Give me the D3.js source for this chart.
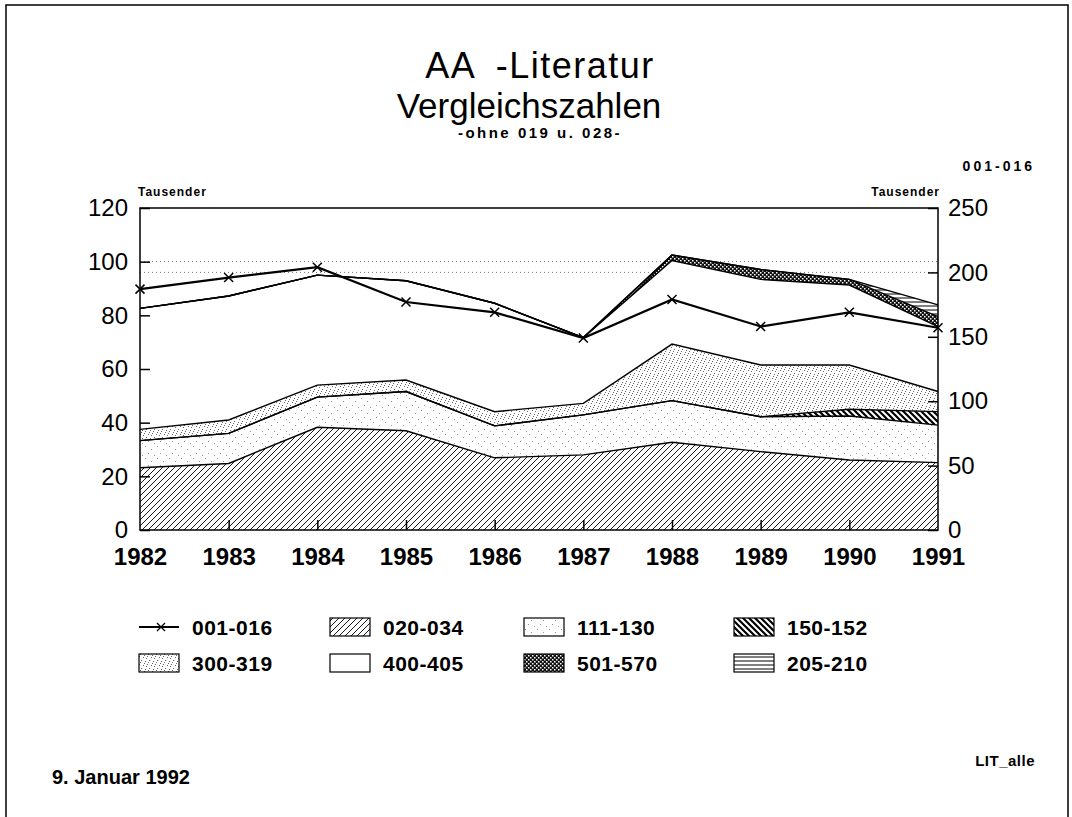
<!DOCTYPE html>
<html>
<head>
<meta charset="utf-8">
<script src="https://cdn.jsdelivr.net/npm/d3@7"></script>
<style>
  body { margin: 0; background: #fff; }
  svg text { font-family: "Liberation Sans", Arial, Helvetica, sans-serif; fill: #000; }
</style>
</head>
<body>
<svg id="main-svg" width="1072" height="817"></svg>
<script>
// data (Tausender)
let years = [1982, 1983, 1984, 1985, 1986, 1987, 1988, 1989, 1990, 1991];
let s020_034 = [23.2, 24.8, 38.3, 37.0, 26.9, 28.0, 32.7, 29.2, 26.1, 25.1];
let s111_130 = [10.1, 11.2, 11.2, 14.6, 11.9, 14.9, 15.5, 13.0, 16.4, 14.0];
let s150_152 = [0, 0, 0, 0, 0, 0, 0, 0, 2.5, 5.0];
let s300_319 = [4.2, 5.0, 4.5, 4.3, 5.3, 4.3, 21.1, 19.3, 16.5, 7.5];
let s400_405 = [45.1, 46.2, 41.0, 37.0, 40.4, 24.5, 31.1, 31.9, 29.8, 24.2];
let s501_570 = [0, 0, 0, 0, 0, 0, 2.1, 3.7, 2.1, 3.7];
let s205_210 = [0, 0, 0, 0, 0, 0, 0, 0, 0, 4.4];
// 001-016 on the right axis
let s001_016 = [187, 196, 204, 177, 169, 149, 179, 158, 169, 157];

let leftTicks = [0, 20, 40, 60, 80, 100, 120];
let rightTicks = [0, 50, 100, 150, 200, 250];

let keys = ["020-034", "111-130", "150-152", "300-319", "400-405", "501-570", "205-210"];
let series = [s020_034, s111_130, s150_152, s300_319, s400_405, s501_570, s205_210];
let fills = {
    "020-034": "url(#hatch-fwd)",
    "111-130": "url(#stipple-light)",
    "150-152": "url(#hatch-back)",
    "300-319": "url(#stipple-dense)",
    "400-405": "#fff",
    "501-570": "url(#cross)",
    "205-210": "url(#horiz)"
};

let svg = d3.select("#main-svg");
let defs = svg.append("defs");

// patterns
let p = defs.append("pattern").attr("id", "hatch-fwd").attr("patternUnits", "userSpaceOnUse")
    .attr("width", 6).attr("height", 6);
p.append("rect").attr("width", 6).attr("height", 6).attr("fill", "#fff");
p.append("path").attr("d", "M-1,1 l2,-2 M0,6 l6,-6 M5,7 l2,-2").attr("stroke", "#000").attr("stroke-width", 0.9);

p = defs.append("pattern").attr("id", "hatch-back").attr("patternUnits", "userSpaceOnUse")
    .attr("width", 6).attr("height", 6);
p.append("rect").attr("width", 6).attr("height", 6).attr("fill", "#fff");
p.append("path").attr("d", "M-1,-1 l8,8 M-1,5 l2,2 M5,-1 l2,2").attr("stroke", "#000").attr("stroke-width", 2.2);

p = defs.append("pattern").attr("id", "stipple-light").attr("patternUnits", "userSpaceOnUse")
    .attr("width", 12).attr("height", 12);
p.append("rect").attr("width", 12).attr("height", 12).attr("fill", "#fff");
[[1, 2], [7, 5], [4, 9], [10, 11]].forEach(function (d) {
    p.append("rect").attr("x", d[0]).attr("y", d[1]).attr("width", 1).attr("height", 1).attr("fill", "#999");
});

p = defs.append("pattern").attr("id", "stipple-dense").attr("patternUnits", "userSpaceOnUse")
    .attr("width", 8).attr("height", 8);
p.append("rect").attr("width", 8).attr("height", 8).attr("fill", "#fff");
[[0, 1], [4, 2], [2, 5], [6, 6], [5, 0], [1, 7], [7, 3]].forEach(function (d) {
    p.append("rect").attr("x", d[0]).attr("y", d[1]).attr("width", 1).attr("height", 1).attr("fill", "#666");
});

p = defs.append("pattern").attr("id", "cross").attr("patternUnits", "userSpaceOnUse")
    .attr("width", 4).attr("height", 4);
p.append("rect").attr("width", 4).attr("height", 4).attr("fill", "#111");
p.append("rect").attr("x", 0).attr("y", 0).attr("width", 1.5).attr("height", 1.5).attr("fill", "#fff");
p.append("rect").attr("x", 2).attr("y", 2).attr("width", 1.5).attr("height", 1.5).attr("fill", "#fff");

p = defs.append("pattern").attr("id", "horiz").attr("patternUnits", "userSpaceOnUse")
    .attr("width", 6).attr("height", 4);
p.append("rect").attr("width", 6).attr("height", 4).attr("fill", "#fff");
p.append("path").attr("d", "M0,2 h6").attr("stroke", "#000").attr("stroke-width", 1);

// page frame
svg.append("path").attr("d", "M6,830 V5 H1068 V830").attr("fill", "none").attr("stroke", "#000").attr("stroke-width", 1.5);

// titles
svg.append("text").attr("x", 540).attr("y", 78).attr("text-anchor", "middle")
    .style("font-size", "36px").style("letter-spacing", "1.5px").style("word-spacing", "10px")
    .text("AA -Literatur");
svg.append("text").attr("x", 529).attr("y", 118).attr("text-anchor", "middle")
    .style("font-size", "35px").text("Vergleichszahlen");
svg.append("text").attr("x", 540).attr("y", 138).attr("text-anchor", "middle")
    .style("font-size", "15px").style("font-weight", "bold").style("letter-spacing", "2.5px")
    .text("-ohne 019 u. 028-");

// plot geometry
let plotLeft = 140, plotRight = 938, plotTop = 208, plotBottom = 530;

let x = d3.scaleLinear().domain([1982, 1991]).range([plotLeft, plotRight]);
let yL = d3.scaleLinear().domain([0, 120]).range([plotBottom, plotTop]);
let yR = d3.scaleLinear().domain([0, 250]).range([plotBottom, plotTop]);

let table = years.map(function (yr, i) {
    let row = { year: yr };
    keys.forEach(function (k, j) { row[k] = series[j][i]; });
    return row;
});

let stack = d3.stack().keys(keys);
let stacked = stack(table);

let area = d3.area()
    .x(function (d) { return x(d.data.year); })
    .y0(function (d) { return yL(d[0]); })
    .y1(function (d) { return yL(d[1]); });

let topLine = d3.line()
    .x(function (d) { return x(d.data.year); })
    .y(function (d) { return yL(d[1]); });

// grid
let gridLayer = svg.append("g");
gridLayer.append("line").attr("x1", plotLeft).attr("x2", plotRight).attr("y1", yL(100)).attr("y2", yL(100))
    .attr("stroke", "#777").attr("stroke-dasharray", "1,3");
gridLayer.append("line").attr("x1", plotLeft).attr("x2", plotRight).attr("y1", yR(200)).attr("y2", yR(200))
    .attr("stroke", "#777").attr("stroke-dasharray", "1,3");

let areaLayer = svg.append("g");
areaLayer.selectAll("path.area")
    .data(stacked)
    .enter().append("path")
    .attr("class", "area")
    .attr("d", area)
    .attr("fill", function (d) { return fills[d.key]; });

areaLayer.selectAll("path.edge")
    .data(stacked)
    .enter().append("path")
    .attr("class", "edge")
    .attr("d", topLine)
    .attr("fill", "none")
    .attr("stroke", "#000")
    .attr("stroke-width", 1.4);

// 001-016 line, right axis
let line = d3.line()
    .x(function (d, i) { return x(years[i]); })
    .y(function (d) { return yR(d); });

svg.append("path").datum(s001_016).attr("d", line)
    .attr("fill", "none").attr("stroke", "#000").attr("stroke-width", 2.2);

function crossPath(cx, cy, r) {
    return "M" + (cx - r) + "," + (cy - r) + "L" + (cx + r) + "," + (cy + r) +
        "M" + (cx - r) + "," + (cy + r) + "L" + (cx + r) + "," + (cy - r);
}

svg.selectAll("path.mark")
    .data(s001_016)
    .enter().append("path")
    .attr("class", "mark")
    .attr("d", function (d, i) { return crossPath(x(years[i]), yR(d), 4.5); })
    .attr("stroke", "#000").attr("stroke-width", 1.5);

// plot frame
svg.append("rect").attr("x", plotLeft).attr("y", plotTop)
    .attr("width", plotRight - plotLeft).attr("height", plotBottom - plotTop)
    .attr("fill", "none").attr("stroke", "#000").attr("stroke-width", 1.5);

// axes
let axisL = d3.axisLeft(yL).tickValues(leftTicks).tickSize(-10).tickPadding(12);
let axisR = d3.axisRight(yR).tickValues(rightTicks).tickSize(-10).tickPadding(10);
let axisB = d3.axisBottom(x).tickValues(years).tickSize(-10).tickPadding(18).tickFormat(d3.format("d"));

function styleAxis(g, bold) {
    g.select(".domain").remove();
    g.selectAll(".tick line").attr("stroke", "#000").attr("stroke-width", 1.5);
    g.selectAll(".tick text")
        .style("font-family", "'Liberation Sans', Arial, sans-serif")
        .style("font-size", "24px")
        .style("font-weight", bold ? "bold" : "normal")
        .attr("fill", "#000");
}

svg.append("g").attr("transform", "translate(" + plotLeft + ",0)").call(axisL).call(styleAxis, false);
svg.append("g").attr("transform", "translate(" + plotRight + ",0)").call(axisR).call(styleAxis, false);
let gB = svg.append("g").attr("transform", "translate(0," + plotBottom + ")").call(axisB).call(styleAxis, true);
// keep the 1982 / 1991 ticks off the frame corners
gB.selectAll(".tick").filter(function (d) { return d === 1982 || d === 1991; }).select("line").remove();

// axis captions
let capStyle = function (t) {
    t.style("font-size", "12px").style("font-weight", "bold").style("letter-spacing", "1px");
};
svg.append("text").attr("x", plotLeft - 2).attr("y", 196).call(capStyle).text("Tausender");
svg.append("text").attr("x", plotRight + 2).attr("y", 196).attr("text-anchor", "end").call(capStyle).text("Tausender");
svg.append("text").attr("x", 1035).attr("y", 171).attr("text-anchor", "end").call(capStyle)
    .style("font-size", "14px").style("letter-spacing", "3px").text("001-016");

// legend
let legendItems = [
    { label: "001-016", fill: null, col: 0, row: 0 },
    { label: "020-034", fill: fills["020-034"], col: 1, row: 0 },
    { label: "111-130", fill: fills["111-130"], col: 2, row: 0 },
    { label: "150-152", fill: fills["150-152"], col: 3, row: 0 },
    { label: "300-319", fill: fills["300-319"], col: 0, row: 1 },
    { label: "400-405", fill: fills["400-405"], col: 1, row: 1 },
    { label: "501-570", fill: fills["501-570"], col: 2, row: 1 },
    { label: "205-210", fill: fills["205-210"], col: 3, row: 1 }
];
let colX = [139, 330, 524, 734];
let rowY = [627, 663];

let legend = svg.append("g");
legendItems.forEach(function (it) {
    let gx = colX[it.col], gy = rowY[it.row];
    let g = legend.append("g").attr("transform", "translate(" + gx + "," + gy + ")");
    if (it.fill === null) {
        g.append("line").attr("x1", 0).attr("x2", 40).attr("y1", 0).attr("y2", 0)
            .attr("stroke", "#000").attr("stroke-width", 2);
        g.append("path").attr("d", crossPath(22, 0, 4)).attr("stroke", "#000").attr("stroke-width", 1.3);
    } else {
        g.append("rect").attr("x", 0).attr("y", -9).attr("width", 40).attr("height", 18)
            .attr("fill", it.fill).attr("stroke", "#000").attr("stroke-width", 1.2);
    }
    g.append("text").attr("x", 53).attr("y", 8)
        .style("font-size", "21px").style("font-weight", "bold").style("letter-spacing", "0.5px")
        .text(it.label);
});

// footer
svg.append("text").attr("x", 52).attr("y", 784).style("font-size", "20px").style("font-weight", "bold")
    .text("9. Januar 1992");
svg.append("text").attr("x", 1035).attr("y", 766).attr("text-anchor", "end")
    .style("font-size", "15px").style("font-weight", "bold").style("letter-spacing", "0.5px")
    .text("LIT_alle");
</script>
</body>
</html>
